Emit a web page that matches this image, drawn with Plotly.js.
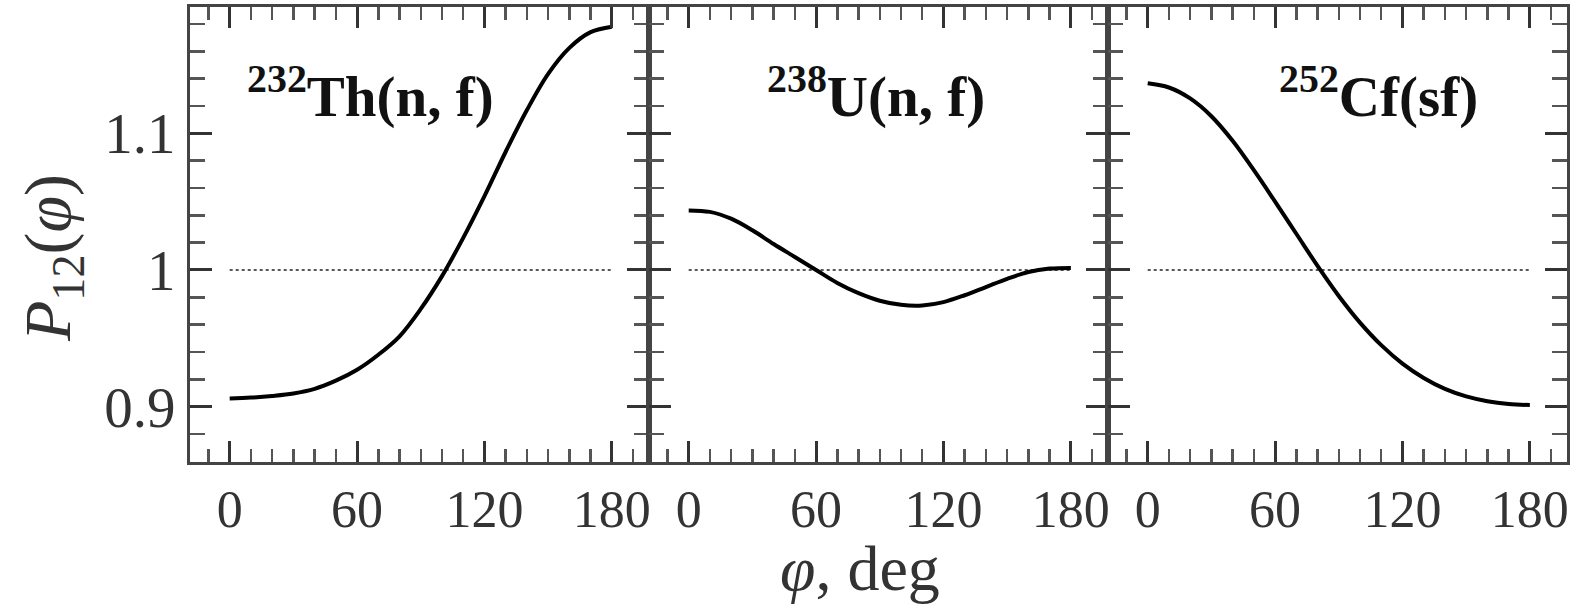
<!DOCTYPE html>
<html>
<head>
<meta charset="utf-8">
<script src="https://cdn.plot.ly/plotly-3.0.1.min.js"></script>
<style>
html, body { margin: 0; padding: 0; background: #fff; }
#chart { width: 1587px; height: 606px; }
</style>
</head>
<body>
<div id="chart"></div>
<script>
// ---- data ----
const phi = [0, 10, 20, 30, 40, 50, 60, 70, 80, 90, 100, 110, 120, 130, 140, 150, 160, 170, 180];
const pTh = [0.9060, 0.9066, 0.9078, 0.9096, 0.9130, 0.9190, 0.9270, 0.9380, 0.9515, 0.9715,
             0.9955, 1.0235, 1.0540, 1.0865, 1.1170, 1.1435, 1.1625, 1.1740, 1.1780];
const pU  = [1.0436, 1.0425, 1.0375, 1.0290, 1.0190, 1.0095, 1.0000, 0.9905, 0.9830, 0.9775,
             0.9745, 0.9740, 0.9765, 0.9815, 0.9875, 0.9935, 0.9985, 1.0010, 1.0015];
const pCf = [1.1366, 1.1335, 1.1255, 1.1125, 1.0945, 1.0730, 1.0500, 1.0265, 1.0030, 0.9810,
             0.9615, 0.9450, 0.9315, 0.9210, 0.9130, 0.9075, 0.9040, 0.9020, 0.9012];

const refX = [0, 180];
const refY = [1, 1];

const panelLabels = ['<b><sup>232</sup>Th(n, f)</b>', '<b><sup>238</sup>U(n, f)</b>', '<b><sup>252</sup>Cf(sf)</b>'];
const xTickVals = [0, 60, 120, 180];
const yTickVals = [0.9, 1, 1.1];
const yTickText = ['0.9', '1', '1.1'];
const xTitle = '<i>φ</i>, deg';
const yTitle = '<i>P</i><sub>12</sub>(<i>φ</i>)';

// ---- build ----
const FONT = '"Liberation Serif", "DejaVu Serif", serif';
const series = [pTh, pU, pCf];
const traces = [];
series.forEach((s, i) => {
  const xa = i === 0 ? 'x' : 'x' + (i + 1);
  const ya = i === 0 ? 'y' : 'y' + (i + 1);
  traces.push({
    x: refX, y: refY, xaxis: xa, yaxis: ya, mode: 'lines',
    line: { color: '#222', width: 1.6, dash: 'dot' }, hoverinfo: 'skip', showlegend: false
  });
  traces.push({
    x: phi, y: s, xaxis: xa, yaxis: ya, mode: 'lines',
    line: { color: '#000', width: 4, shape: 'spline', smoothing: 1 }, showlegend: false
  });
});

const xRange = [-18.7, 197.5];
const yRange = [0.8595, 1.1924];

function xAxis(domain, anchor) {
  return {
    domain: domain, anchor: anchor, range: xRange,
    showgrid: false, zeroline: false,
    showline: true, linecolor: '#444', linewidth: 3, mirror: 'ticks',
    ticks: 'inside', ticklen: 21, tickwidth: 3, tickcolor: '#333',
    tickmode: 'array', tickvals: xTickVals,
    minor: { dtick: 10, tick0: 0, ticks: 'inside', ticklen: 13, tickwidth: 2.5, tickcolor: '#555', showgrid: false },
    tickfont: { family: FONT, size: 52, color: '#333' }
  };
}
function yAxis(anchor, labels) {
  return {
    anchor: anchor, range: yRange,
    showgrid: false, zeroline: false,
    showline: true, linecolor: '#444', linewidth: 3, mirror: 'ticks',
    ticks: 'inside', ticklen: 22, tickwidth: 3, tickcolor: '#333',
    tickmode: 'array', tickvals: yTickVals, ticktext: yTickText,
    showticklabels: labels,
    minor: { dtick: 0.02, tick0: 0.9, ticks: 'inside', ticklen: 15, tickwidth: 2.5, tickcolor: '#555', showgrid: false },
    tickfont: { family: FONT, size: 57, color: '#333' }
  };
}

const labelX = [7, 36, 61];
const annotations = panelLabels.map((t, i) => ({
  text: t, xref: i === 0 ? 'x' : 'x' + (i + 1), yref: i === 0 ? 'y' : 'y' + (i + 1),
  x: labelX[i], y: 1.130, xanchor: 'left', yanchor: 'middle', showarrow: false,
  font: { family: FONT, size: 57, color: '#111' }
}));
annotations.push({
  text: xTitle, xref: 'paper', yref: 'paper', x: (860 - 190) / 1377, y: (462 - 568) / 455,
  xanchor: 'center', yanchor: 'middle', showarrow: false,
  font: { family: FONT, size: 64, color: '#333' }
});
annotations.push({
  text: yTitle, xref: 'paper', yref: 'paper', x: (52 - 190) / 1377, y: (462 - 258) / 455,
  xanchor: 'center', yanchor: 'middle', textangle: -90, showarrow: false,
  font: { family: FONT, size: 66, color: '#333' }
});

const layout = {
  width: 1587, height: 606,
  margin: { l: 190, r: 20, t: 7, b: 144 },
  paper_bgcolor: '#fff', plot_bgcolor: '#fff',
  showlegend: false,
  xaxis: xAxis([0, 1 / 3], 'y'),
  xaxis2: xAxis([1 / 3, 2 / 3], 'y2'),
  xaxis3: xAxis([2 / 3, 1], 'y3'),
  yaxis: yAxis('x', true),
  yaxis2: yAxis('x2', false),
  yaxis3: yAxis('x3', false),
  annotations: annotations
};

Plotly.newPlot('chart', traces, layout, { displayModeBar: false, staticPlot: true });
</script>
</body>
</html>
